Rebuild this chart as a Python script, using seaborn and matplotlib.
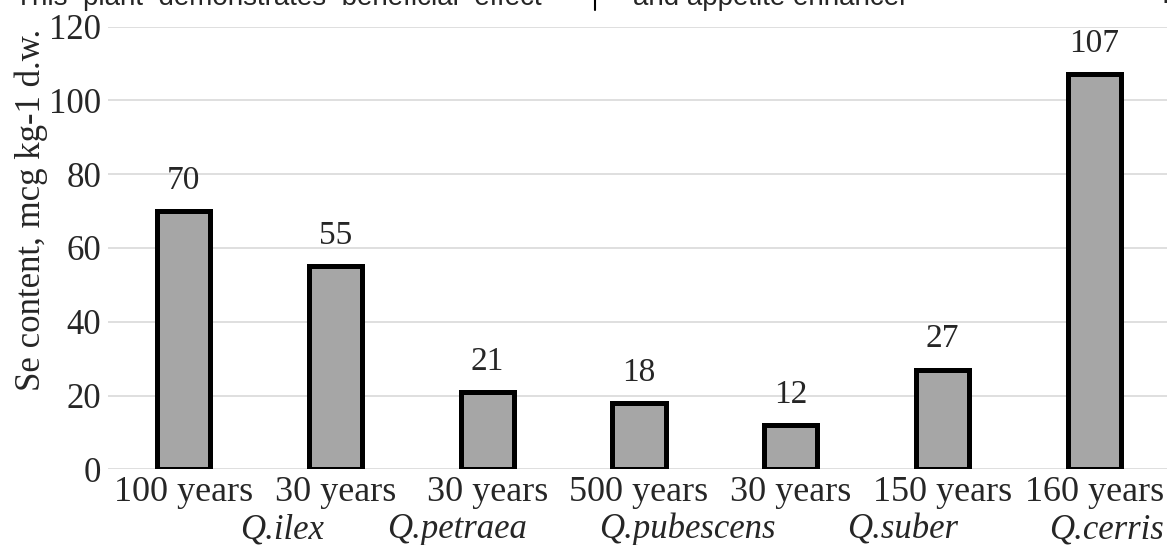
import matplotlib
matplotlib.use("Agg")
import matplotlib.pyplot as plt
from matplotlib.lines import Line2D
import seaborn as sns
import pandas as pd

# Selenium content of oak leaves by tree age
ages = ["100 years", "30 years", "30 years", "500 years", "30 years", "150 years", "160 years"]
se_content = [70, 55, 21, 18, 12, 27, 107]
species = ["Q.ilex", "Q.petraea", "Q.pubescens", "Q.suber", "Q.cerris"]
y_ticks = [0, 20, 40, 60, 80, 100, 120]

sns.set_theme(style="white")
plt.rcParams["font.family"] = ["Liberation Serif", "DejaVu Serif"]

W, H = 1167, 545
fig = plt.figure(figsize=(W / 100, H / 100), dpi=100)
fig.patch.set_facecolor("white")

ax_left, ax_bottom, ax_top = 108, 469.3, 26.5
ax = fig.add_axes([ax_left / W, 1 - ax_bottom / H, 1 - ax_left / W, (ax_bottom - ax_top) / H])

df = pd.DataFrame({"pos": list(range(len(ages))), "se": se_content})
sns.barplot(data=df, x="pos", y="se", ax=ax, color="#a6a6a6", saturation=1,
            width=0.35, edgecolor="black", linewidth=3.6, errorbar=None)

ax.set_xlim(-0.5, 6.48)
ax.set_ylim(0, 120)
ax.set_yticks(y_ticks)
ax.set_xticks(range(len(ages)))
ax.set_xticklabels(ages, fontsize=26)
ax.set_yticklabels([str(t) for t in y_ticks], fontsize=25)
ax.tick_params(axis="x", length=0, pad=5)
ax.tick_params(axis="y", length=0, pad=5)
ax.set_xlabel("")
ax.set_ylabel("Se content, mcg kg-1 d.w.", fontsize=25)
ax.yaxis.set_label_coords((31 - ax_left) / (W - ax_left), (ax_bottom - 210) / (ax_bottom - ax_top))
ax.yaxis.label.set_va("center")

ax.yaxis.grid(True, color="#d9d9d9", linewidth=1.2)
ax.xaxis.grid(False)
ax.set_axisbelow(True)
for s in ax.spines.values():
    s.set_visible(False)

ax.bar_label(ax.containers[0], labels=[str(v) for v in se_content], padding=11, fontsize=24)

# species names on the second label row
species_px = [282, 457, 687, 903, 1106]
for name, px in zip(species, species_px):
    fig.text(px / W, 1 - 538 / H, name, fontsize=25, style="italic",
             ha="center", va="baseline")

# running text of the page above the figure
sans = ["Liberation Sans", "DejaVu Sans"]
fig.text(15 / W, 1 - 5 / H, "This  plant  demonstrates  beneficial  effect",
         fontsize=20, family=sans, ha="left", va="baseline")
fig.text(633 / W, 1 - 5 / H, "and appetite enhancer",
         fontsize=20, family=sans, ha="left", va="baseline")
fig.text(1162 / W, 1 - 3 / H, ".", fontsize=20, family=sans, ha="left", va="baseline")
fig.add_artist(Line2D([595 / W, 595 / W], [1, 1 - 10 / H], color="black", linewidth=1.5))

fig.savefig("out.png", dpi=100, facecolor="white")
